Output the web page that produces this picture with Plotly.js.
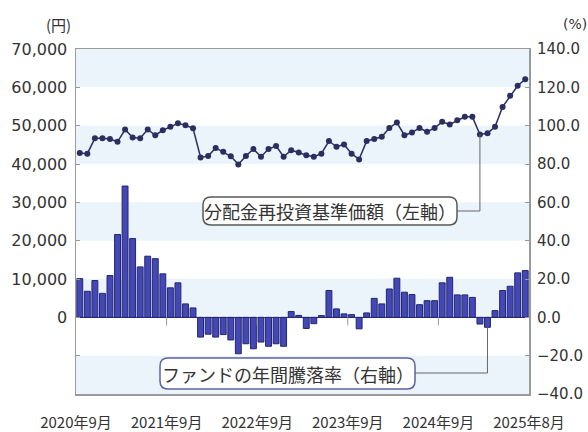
<!DOCTYPE html>
<html><head><meta charset="utf-8">
<script src="https://cdn.plot.ly/plotly-3.0.1.min.js"></script>
<style>html,body{margin:0;padding:0;background:#fff}#chart{width:588px;height:432px}</style>
</head><body><div id="chart"></div>
<script>
// ---- data ----
const months = [
 '2020-09','2020-10','2020-11','2020-12','2021-01','2021-02','2021-03','2021-04','2021-05','2021-06','2021-07','2021-08',
 '2021-09','2021-10','2021-11','2021-12','2022-01','2022-02','2022-03','2022-04','2022-05','2022-06','2022-07','2022-08',
 '2022-09','2022-10','2022-11','2022-12','2023-01','2023-02','2023-03','2023-04','2023-05','2023-06','2023-07','2023-08',
 '2023-09','2023-10','2023-11','2023-12','2024-01','2024-02','2024-03','2024-04','2024-05','2024-06','2024-07','2024-08',
 '2024-09','2024-10','2024-11','2024-12','2025-01','2025-02','2025-03','2025-04','2025-05','2025-06','2025-07','2025-08'];
const navValues = [
 42900,42700,46700,46700,46500,45800,49000,46900,46700,49000,47500,48800,
 49700,50600,50100,49300,41700,42100,44200,43200,42000,39900,42100,43900,
 41900,43900,44700,41900,43600,43000,42300,41900,42700,46000,44500,45100,
 42700,41200,46000,46500,47100,49400,50800,47500,48200,49400,48400,49400,
 51000,50300,51400,52300,52300,47700,48000,49700,54900,57800,60400,62100];
const rateValues = [
 20.2,13.6,19.2,12.5,21.8,43.2,68.5,41.1,26.3,31.9,30.6,22.7,
 15.4,18.0,7.0,4.9,-10.3,-8.8,-10.3,-9.0,-11.8,-19.0,-13.8,-16.4,
 -12.9,-15.1,-13.8,-15.1,3.0,1.0,-5.8,-3.3,0.9,14.0,4.4,1.8,
 1.4,-6.0,2.3,9.9,7.0,14.8,20.4,13.1,11.9,6.6,8.7,8.7,
 18.0,20.9,11.7,11.7,10.4,-3.5,-5.2,3.5,14.0,16.2,23.2,24.4];
const xLabelMonths = ['2020-09','2021-09','2022-09','2023-09','2024-09','2025-08'];
const xLabelText = ['2020年9月','2021年9月','2022年9月','2023年9月','2024年9月','2025年8月'];
const leftTickVals = [-20000,-10000,0,10000,20000,30000,40000,50000,60000,70000];
const leftTickText = ['','','0','10,000','20,000','30,000','40,000','50,000','60,000','70,000'];
const rightTickVals = [-40,-20,0,20,40,60,80,100,120,140];
const navLabel = '分配金再投資基準価額（左軸）';
const rateLabel = 'ファンドの年間騰落率（右軸）';
const navCalloutMonth = '2025-02';
const rateCalloutMonth = '2025-03';

// ---- geometry helpers ----
const W = 588, H = 432, L = 76, R = 529, T = 49, B = 394;
const N = months.length;
const xRange = [-0.5, N - 0.5];
const yRange = [-20000, 70000];
const y2Range = [-40, 140];
const px2x = px => xRange[0] + (px - L) / (R - L) * (xRange[1] - xRange[0]);
const py2y = py => yRange[1] - (py - T) / (B - T) * (yRange[1] - yRange[0]);
const px2p = px => (px - L) / (R - L);
const py2p = py => (B - py) / (B - T);
const rate2y = v => (v - y2Range[0]) / (y2Range[1] - y2Range[0]) * (yRange[1] - yRange[0]) + yRange[0];
const xIdx = months.map((m, i) => i);

const labelPos = xLabelMonths.map(m => {
  const i = months.indexOf(m);
  return i === N - 1 ? i + 0.5 : i - 0.5;
});

function roundRect(x0p, y0p, x1p, y1p, r) {
  const x0 = px2x(x0p), x1 = px2x(x1p), y0 = py2y(y1p), y1 = py2y(y0p);
  const rx = px2x(L + r) - px2x(L), ry = py2y(T) - py2y(T + r);
  return `M${x0 + rx},${y0} L${x1 - rx},${y0} Q${x1},${y0} ${x1},${y0 + ry} L${x1},${y1 - ry} Q${x1},${y1} ${x1 - rx},${y1} L${x0 + rx},${y1} Q${x0},${y1} ${x0},${y1 - ry} L${x0},${y0 + ry} Q${x0},${y0} ${x0 + rx},${y0} Z`;
}

const shapes = [];
// horizontal bands
for (let v = yRange[0]; v < yRange[1]; v += 10000) {
  const k = Math.round((v - yRange[0]) / 10000);
  if (k % 2 === 0) {
    shapes.push({type:'rect', xref:'paper', yref:'y', x0:0, x1:1, y0:v, y1:v + 10000,
      fillcolor:'#ebf4fa', line:{width:0}, layer:'below'});
  }
}
// small ticks on zero line
labelPos.slice(1, -1).forEach(p => {
  shapes.push({type:'line', xref:'x', yref:'y', ysizemode:'pixel', yanchor:0,
    x0:p, x1:p, y0:0, y1:-8, line:{color:'#999', width:1}, layer:'above'});
});
// leader lines
const iNav = months.indexOf(navCalloutMonth);
const iRate = months.indexOf(rateCalloutMonth);
shapes.push({type:'path', xref:'x', yref:'y', layer:'above', line:{color:'#666', width:1},
  path:`M${px2x(456)},${py2y(211)} L${iNav},${py2y(211)} L${iNav},${navValues[iNav]}`});
shapes.push({type:'path', xref:'x', yref:'y', layer:'above', line:{color:'#666', width:1},
  path:`M${px2x(414)},${py2y(373)} L${iRate},${py2y(373)} L${iRate},${rate2y(rateValues[iRate])}`});
// callout boxes
shapes.push({type:'path', xref:'x', yref:'y', layer:'above', fillcolor:'#ffffff',
  line:{color:'#5a5a5a', width:1.5}, path: roundRect(203, 197, 457, 225, 8)});
shapes.push({type:'path', xref:'x', yref:'y', layer:'above', fillcolor:'#ffffff',
  line:{color:'#5d62a8', width:1.5}, path: roundRect(160, 358, 415, 389, 8)});

const traces = [
  {type:'bar', x:xIdx, y:rateValues, yaxis:'y2', width:0.78,
   marker:{color:'#4448b6', line:{color:'#23256f', width:1}}, hoverinfo:'skip'},
  {type:'scatter', mode:'lines+markers', x:xIdx, y:navValues, yaxis:'y',
   line:{color:'#2a2f5f', width:1.5}, marker:{color:'#2a2f5f', size:6}, hoverinfo:'skip'}
];

const tickFont = {family:'DejaVu Sans', size:16, color:'#333'};
const layout = {
  width:W, height:H, margin:{l:L, r:W - R, t:T, b:H - B},
  paper_bgcolor:'#ffffff', plot_bgcolor:'#ffffff', showlegend:false, bargap:0,
  xaxis:{range:xRange, tickmode:'array', tickvals:labelPos, ticktext:xLabelText, ticks:'',
    showgrid:false, zeroline:false, showline:true, mirror:true, linecolor:'#9a9a9a', linewidth:1.5,
    tickfont:{family:'Noto Sans CJK JP', size:15, color:'#333'}, ticklabelstandoff:14},
  yaxis:{range:yRange, tickmode:'array', tickvals:leftTickVals, ticktext:leftTickText,
    ticks:'inside', ticklen:4, tickcolor:'#999', showgrid:false, showline:true, mirror:true,
    linecolor:'#9a9a9a', linewidth:1.5, zeroline:true, zerolinecolor:'#2b2e7a', zerolinewidth:1.5,
    tickfont:tickFont, ticklabelstandoff:4},
  yaxis2:{range:y2Range, overlaying:'y', side:'right', tickmode:'array', tickvals:rightTickVals,
    tickformat:'.1f', ticks:'inside', ticklen:4, tickcolor:'#999', showgrid:false, zeroline:false,
    showline:false, tickfont:{family:'DejaVu Sans', size:15, color:'#333'}, ticklabelstandoff:7},
  shapes: shapes,
  annotations:[
    {xref:'paper', yref:'paper', x:px2p(330), y:py2p(211), text:navLabel, showarrow:false,
     font:{family:'Noto Sans CJK JP', size:18, color:'#333'}, xanchor:'center', yanchor:'middle'},
    {xref:'paper', yref:'paper', x:px2p(287.5), y:py2p(373.5), text:rateLabel, showarrow:false,
     font:{family:'Noto Sans CJK JP', size:18, color:'#333'}, xanchor:'center', yanchor:'middle'},
    {xref:'paper', yref:'paper', x:px2p(58), y:py2p(25), text:'(円)', showarrow:false,
     font:{family:'Noto Sans CJK JP', size:15, color:'#333'}, xanchor:'center', yanchor:'middle'},
    {xref:'paper', yref:'paper', x:px2p(561), y:py2p(24), text:'(%)', showarrow:false,
     font:{family:'DejaVu Sans', size:14, color:'#333'}, xanchor:'left', yanchor:'middle'}
  ]
};
Plotly.newPlot('chart', traces, layout, {staticPlot:true, displayModeBar:false});
</script></body></html>
